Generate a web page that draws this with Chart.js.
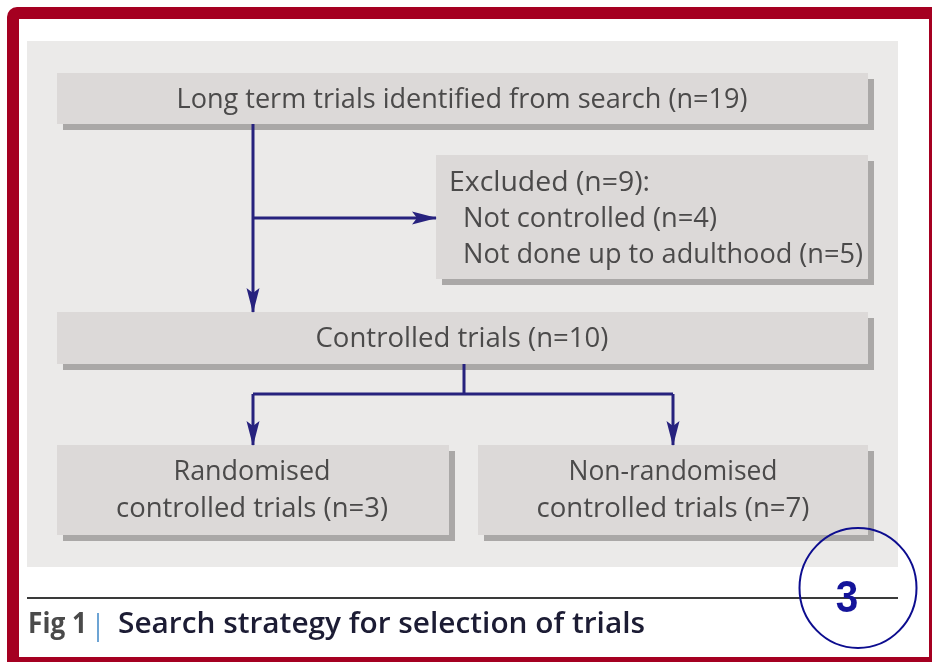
<!DOCTYPE html>
<html>
<head>
<meta charset="utf-8">
<script src="https://cdn.jsdelivr.net/npm/chart.js@4.4.1/dist/chart.umd.min.js"></script>
<style>
  html, body { margin: 0; padding: 0; background: #fff; overflow: hidden; }
  canvas { display: block; }
</style>
</head>
<body>
<canvas id="flowChart" width="932" height="662"></canvas>
<script>
// counts
const totalFound = 19;
const excludedCounts = [4, 5];      // not controlled, not done up to adulthood
const controlledCount = 10;
const splitCounts = [3, 7];         // randomised, non-randomised

const boxTexts = [
  ["Long term trials identified from search (n=" + totalFound + ")"],
  ["Excluded (n=" + (excludedCounts[0] + excludedCounts[1]) + "):",
   "Not controlled (n=" + excludedCounts[0] + ")",
   "Not done up to adulthood (n=" + excludedCounts[1] + ")"],
  ["Controlled trials (n=" + controlledCount + ")"],
  ["Randomised", "controlled trials (n=" + splitCounts[0] + ")"],
  ["Non-randomised", "controlled trials (n=" + splitCounts[1] + ")"]
];
const captionLabel = "Fig 1";
const captionText = "Search strategy for selection of trials";
const badgeText = "3";

// connector segments in figure units, last flag = ends in an arrow
const connectors = [
  [[253, 124], [253, 312], true],
  [[253, 218], [436, 218], true],
  [[464, 364], [464, 394], false],
  [[253, 394], [673, 394], false],
  [[253, 394], [253, 445], true],
  [[673, 394], [673, 445], true]
];

// layout (figure units == pixels): rect [x0,y0,x1,y1], text lines {x, base, w, align}
const boxLayout = [
  { rect: [57, 73, 868, 124], lines: [{ x: 462, base: 108, w: 571, align: "center" }] },
  { rect: [436, 155, 868, 279], lines: [
      { x: 449, base: 191, w: 201, align: "left" },
      { x: 463, base: 227, w: 254, align: "left" },
      { x: 463, base: 263, w: 400, align: "left" }] },
  { rect: [57, 312, 868, 364], lines: [{ x: 462, base: 347, w: 293, align: "center" }] },
  { rect: [57, 445, 449, 535], lines: [
      { x: 252, base: 480, w: 157, align: "center" },
      { x: 252, base: 517, w: 272, align: "center" }] },
  { rect: [478, 445, 868, 535], lines: [
      { x: 673, base: 480, w: 209, align: "center" },
      { x: 673, base: 517, w: 273, align: "center" }] }
];

const RED = "#a50021";
const NAVY = "#27227e";
const BOX_FILL = "#dcd9d8";
const SHADOW = "#aaa8a7";
const PANEL = "#ebeae9";
const FONT = "'Open Sans', 'DejaVu Sans', sans-serif";

function fitText(ctx, str, x, y, w, align) {
  const natural = ctx.measureText(str).width;
  const sx = w / natural;
  ctx.save();
  ctx.translate(x, y);
  ctx.scale(sx, 1);
  ctx.textAlign = align;
  ctx.fillText(str, 0, 0);
  ctx.restore();
}

const flowPlugin = {
  id: "flowPlugin",
  beforeDatasetsDraw(chart) {
    const ctx = chart.ctx;
    const xs = chart.scales.x, ys = chart.scales.y;
    const px = v => xs.getPixelForValue(v);
    const py = v => ys.getPixelForValue(v);

    // red frame
    ctx.save();
    ctx.fillStyle = RED;
    ctx.beginPath();
    ctx.roundRect(px(7), py(7), px(945) - px(7), py(675) - py(7), [10, 0, 0, 0]);
    ctx.fill();
    ctx.fillStyle = "#fff";
    ctx.fillRect(px(19), py(19), px(929) - px(19), py(657) - py(19));

    // grey panel
    ctx.fillStyle = PANEL;
    ctx.fillRect(px(27), py(41), px(898) - px(27), py(567) - py(41));

    // boxes with shadow
    boxLayout.forEach((b, i) => {
      const [x0, y0, x1, y1] = b.rect;
      ctx.fillStyle = SHADOW;
      ctx.fillRect(px(x0 + 6), py(y0 + 6), px(x1) - px(x0), py(y1) - py(y0));
      ctx.fillStyle = BOX_FILL;
      ctx.fillRect(px(x0), py(y0), px(x1) - px(x0), py(y1) - py(y0));
      ctx.fillStyle = "#4b4a4a";
      ctx.font = "27px " + FONT;
      ctx.textBaseline = "alphabetic";
      b.lines.forEach((ln, j) => {
        fitText(ctx, boxTexts[i][j], px(ln.x), py(ln.base), ln.w, ln.align);
      });
    });
    ctx.restore();
  },
  afterDatasetsDraw(chart) {
    const ctx = chart.ctx;
    const xs = chart.scales.x, ys = chart.scales.y;
    const px = v => xs.getPixelForValue(v);
    const py = v => ys.getPixelForValue(v);

    ctx.save();
    // arrow heads
    ctx.fillStyle = NAVY;
    connectors.forEach(c => {
      if (!c[2]) return;
      const [a, b] = c;
      const ang = Math.atan2(py(b[1]) - py(a[1]), px(b[0]) - px(a[0]));
      ctx.save();
      ctx.translate(px(b[0]), py(b[1]));
      ctx.rotate(ang);
      ctx.beginPath();
      ctx.moveTo(1, 0);
      ctx.lineTo(-24, -6.5);
      ctx.lineTo(-19, 0);
      ctx.lineTo(-24, 6.5);
      ctx.closePath();
      ctx.fill();
      ctx.restore();
    });

    // caption rule and caption
    ctx.strokeStyle = "#3a3a3a";
    ctx.lineWidth = 2;
    ctx.beginPath();
    ctx.moveTo(px(27), py(598));
    ctx.lineTo(px(898), py(598));
    ctx.stroke();

    ctx.textBaseline = "alphabetic";
    ctx.fillStyle = "#4a4a4a";
    ctx.font = "bold 28px " + FONT;
    fitText(ctx, captionLabel, px(28), py(633), 59, "left");
    ctx.strokeStyle = "#3d86c6";
    ctx.lineWidth = 1.5;
    ctx.beginPath();
    ctx.moveTo(px(98), py(613));
    ctx.lineTo(px(98), py(642));
    ctx.stroke();
    ctx.fillStyle = "#1c1c34";
    ctx.font = "600 28px " + FONT;
    fitText(ctx, captionText, px(118), py(633), 527, "left");

    // page badge
    ctx.strokeStyle = "#0d0d8f";
    ctx.lineWidth = 2;
    ctx.beginPath();
    ctx.ellipse(px(858), py(588), 58.5, 60, 0, 0, Math.PI * 2);
    ctx.stroke();
    ctx.fillStyle = "#14149a";
    ctx.font = "bold 45px 'Liberation Sans', Arial, sans-serif";
    ctx.save();
    ctx.translate(px(847), py(612));
    ctx.scale(0.9, 1);
    ctx.textAlign = "center";
    ctx.fillText(badgeText, 0, 0);
    ctx.restore();
    ctx.restore();
  }
};

const connectorSets = connectors.map(c => ({
  data: [{ x: c[0][0], y: c[0][1] }, { x: c[1][0], y: c[1][1] }],
  showLine: true,
  borderColor: NAVY,
  borderWidth: 3,
  borderCapStyle: "butt",
  pointRadius: 0,
  fill: false
}));

new Chart(document.getElementById("flowChart"), {
  type: "scatter",
  data: { datasets: connectorSets },
  options: {
    responsive: false,
    animation: false,
    devicePixelRatio: 1,
    events: [],
    layout: { padding: 0 },
    plugins: { legend: { display: false }, tooltip: { enabled: false } },
    scales: {
      x: { type: "linear", min: 0, max: 932, display: false },
      y: { type: "linear", min: 0, max: 662, reverse: true, display: false }
    }
  },
  plugins: [flowPlugin]
});
</script>
</body>
</html>
